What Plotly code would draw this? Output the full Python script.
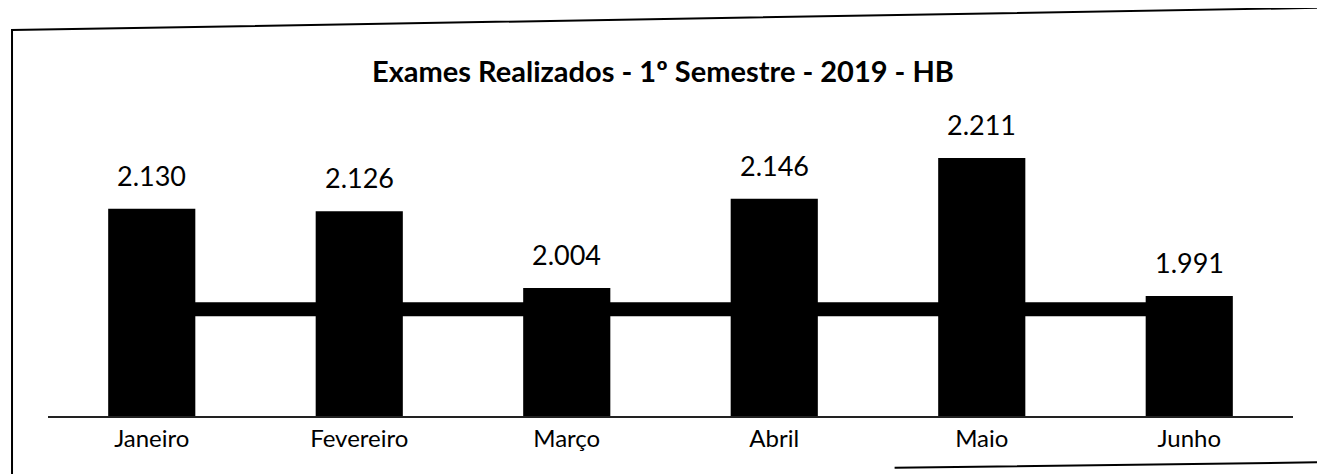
import plotly.graph_objects as go

meses = ["Janeiro", "Fevereiro", "Março", "Abril", "Maio", "Junho"]
exames = [2130, 2126, 2004, 2146, 2211, 1991]
linha = [1970, 1970, 1970, 1970, 1970, 1970]
rotulos = ["2.130", "2.126", "2.004", "2.146", "2.211", "1.991"]

fig = go.Figure()
fig.add_trace(go.Scatter(x=meses, y=linha, mode="lines",
                         line=dict(color="black", width=14),
                         hoverinfo="skip", showlegend=False))
fig.add_trace(go.Bar(x=meses, y=exames, marker=dict(color="black", line=dict(width=0)),
                     width=0.42, showlegend=False))

for m, v, t in zip(meses, exames, rotulos):
    fig.add_annotation(x=m, y=v, text=t, showarrow=False, yanchor="bottom",
                       yshift=15, font=dict(family="Lato", size=27, color="black"))

fig.add_annotation(x=0.494, y=1.0, xref="paper", yref="paper", yanchor="bottom",
                   yshift=12, showarrow=False,
                   text="<b>Exames Realizados - 1º Semestre - 2019 - HB</b>",
                   font=dict(family="Lato", size=29, color="black"))

# outer frame (slightly tilted like the scanned page)
fig.add_shape(type="path", xref="paper", yref="paper",
              path="M -0.0289,-0.35 L -0.0289,1.229 L 1.05,1.302 L 1.05,-0.146 L 0.68,-0.165",
              line=dict(color="black", width=2), fillcolor="rgba(0,0,0,0)")

fig.update_layout(
    width=1325, height=474,
    margin=dict(l=40, r=40, t=94, b=66),
    paper_bgcolor="white", plot_bgcolor="white",
    bargap=0.58,
    xaxis=dict(showline=True, linecolor="#222", linewidth=2, ticks="",
               tickfont=dict(family="Lato", size=24, color="black"),
               showgrid=False),
    yaxis=dict(range=[1800, 2300], visible=False, showgrid=False),
)

fig.write_html("out.html")
